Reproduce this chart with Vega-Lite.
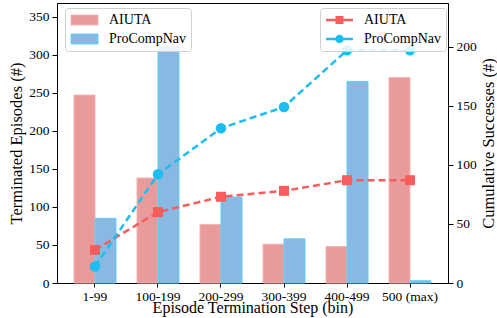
{
  "$schema": "https://vega.github.io/schema/vega-lite/v6.json",
  "width": 391,
  "height": 280,
  "autosize": {"type": "none"},
  "padding": {"left": 57, "top": 3, "right": 49, "bottom": 35},
  "config": {
    "font": "Liberation Serif",
    "view": {"stroke": "black", "strokeWidth": 1},
    "axis": {"labelFont": "Liberation Serif", "titleFont": "Liberation Serif", "labelFontSize": 13.5, "titleFontSize": 16.5, "titleFontWeight": "normal", "labelColor": "black", "titleColor": "black", "domainColor": "black", "tickColor": "black", "tickSize": 5, "labelPadding": 3, "grid": false},
    "legend": {"labelFont": "Liberation Serif", "labelFontSize": 14, "labelColor": "black", "fillColor": "rgba(255,255,255,0.85)", "strokeColor": "#d0d0d0", "cornerRadius": 3, "padding": 5, "rowPadding": 5}
  },
  "data": {"values": [
    {"bin": "1-99", "series": "AIUTA", "count": 247, "cum": 28},
    {"bin": "100-199", "series": "AIUTA", "count": 138, "cum": 60},
    {"bin": "200-299", "series": "AIUTA", "count": 77, "cum": 73},
    {"bin": "300-399", "series": "AIUTA", "count": 51, "cum": 78},
    {"bin": "400-499", "series": "AIUTA", "count": 48, "cum": 87},
    {"bin": "500 (max)", "series": "AIUTA", "count": 270, "cum": 87},
    {"bin": "1-99", "series": "ProCompNav", "count": 85, "cum": 14},
    {"bin": "100-199", "series": "ProCompNav", "count": 310, "cum": 92},
    {"bin": "200-299", "series": "ProCompNav", "count": 113, "cum": 131},
    {"bin": "300-399", "series": "ProCompNav", "count": 58, "cum": 149},
    {"bin": "400-499", "series": "ProCompNav", "count": 265, "cum": 197},
    {"bin": "500 (max)", "series": "ProCompNav", "count": 3, "cum": 197}
  ]},
  "encoding": {
    "x": {"field": "bin", "type": "nominal", "sort": ["1-99", "100-199", "200-299", "300-399", "400-499", "500 (max)"],
      "scale": {"paddingInner": 0, "paddingOuter": 0.103},
      "axis": {"title": "Episode Termination Step (bin)", "labelAngle": 0, "tickSize": 4, "labelPadding": 2, "titleY": 29.5, "titleBaseline": "alphabetic", "titleFontSize": 16}}
  },
  "layer": [
    {
      "mark": {"type": "bar", "strokeWidth": 1},
      "encoding": {
        "xOffset": {"field": "series", "type": "nominal", "scale": {"paddingInner": 0, "paddingOuter": 0.5}},
        "y": {"field": "count", "type": "quantitative", "scale": {"domain": [0, 368], "nice": false},
          "axis": {"title": "Terminated Episodes (#)", "values": [0, 50, 100, 150, 200, 250, 300, 350], "titlePadding": 4}},
        "color": {"field": "series", "type": "nominal",
          "scale": {"domain": ["AIUTA", "ProCompNav"], "range": ["#e99b9b", "#89b8e2"]},
          "legend": {"title": null, "orient": "none", "legendX": 8, "legendY": 5, "symbolType": "M-1,-0.83H3.5V0.83H-1Z", "symbolSize": 144, "symbolOpacity": 1, "labelOffset": 25, "symbolStrokeWidth": 1}},
        "stroke": {"field": "series", "type": "nominal",
          "scale": {"domain": ["AIUTA", "ProCompNav"], "range": ["#f6b3b3", "#5cd3f5"]}, "legend": null}
      }
    },
    {
      "mark": {"type": "line", "strokeWidth": 2.5, "strokeDash": [7, 4]},
      "encoding": {
        "y": {"field": "cum", "type": "quantitative", "scale": {"domain": [0, 237], "nice": false},
          "axis": {"title": "Cumulative Successes (#)", "orient": "right", "values": [0, 50, 100, 150, 200], "titlePadding": 20, "titleAngle": 270}},
        "stroke": {"field": "series", "type": "nominal", "scale": {"domain": ["AIUTA", "ProCompNav"], "range": ["#f75d5d", "#1cbdf0"]},
          "legend": {"title": null, "orient": "none", "legendX": 263, "legendY": 5, "symbolSize": 144, "symbolOpacity": 1, "labelOffset": 25, "symbolStrokeWidth": 0,
            "encode": {"symbols": {"update": {
              "shape": {"signal": "datum.value === 'AIUTA' ? 'M-1,-0.2H3.5V0.2H-1Z M0.58,-0.67H1.92V0.67H0.58Z' : 'M-1,-0.2H3.5V0.2H-1Z M0.55,0A0.7,0.7 0 1,1 1.95,0A0.7,0.7 0 1,1 0.55,0Z'"},
              "fill": {"signal": "datum.value === 'AIUTA' ? '#f75d5d' : '#1cbdf0'"},
              "fillOpacity": {"value": 1},
              "opacity": {"value": 1},
              "strokeWidth": {"value": 0}
            }}}}}
      }
    },
    {
      "transform": [{"filter": "datum.series == 'AIUTA'"}],
      "mark": {"type": "point", "shape": "square", "filled": true, "size": 100, "color": "#f75d5d", "opacity": 1},
      "encoding": {
        "y": {"field": "cum", "type": "quantitative", "scale": {"domain": [0, 237], "nice": false}, "axis": null}
      }
    },
    {
      "transform": [{"filter": "datum.series == 'ProCompNav'"}],
      "mark": {"type": "point", "shape": "circle", "filled": true, "size": 110, "color": "#1cbdf0", "opacity": 1},
      "encoding": {
        "y": {"field": "cum", "type": "quantitative", "scale": {"domain": [0, 237], "nice": false}, "axis": null}
      }
    }
  ],
  "resolve": {"scale": {"y": "independent", "color": "independent", "stroke": "independent"}}
}
